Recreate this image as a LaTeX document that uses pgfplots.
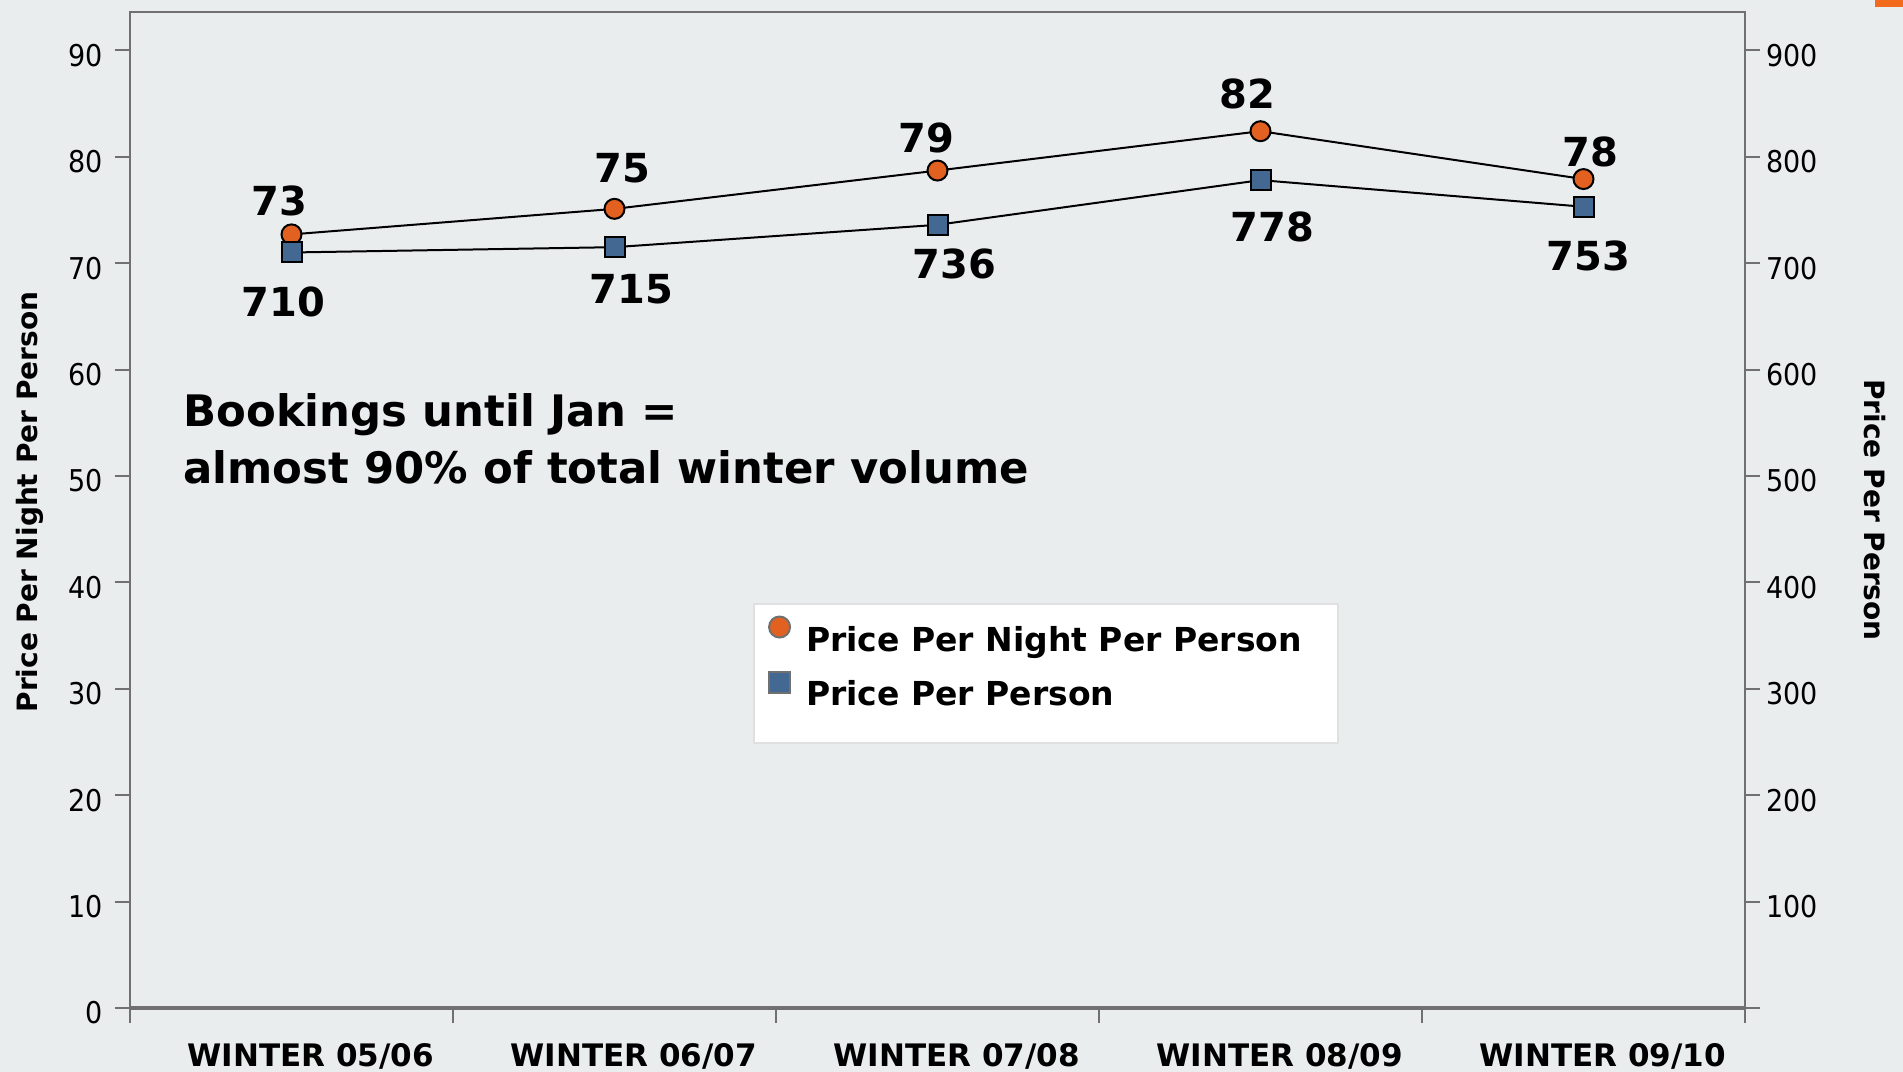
\documentclass[border=0pt]{standalone}
\usepackage{pgfplots}
\pgfplotsset{compat=1.18}
\usepackage{fontspec}
\setmainfont{DejaVu Sans}
\newfontfamily\condfont{DejaVu Sans Condensed}
\definecolor{bg}{RGB}{233,237,238}
\definecolor{axgray}{RGB}{112,112,112}
\definecolor{myorange}{RGB}{226,97,33}
\definecolor{myblue}{RGB}{67,104,146}
\definecolor{corner}{RGB}{242,107,29}
\begin{document}
\begin{tikzpicture}[x=1pt,y=1pt]
\fill[bg] (0,0) rectangle (951.5,536);
\fill[corner] (937.5,532.5) rectangle (951.5,536);
\begin{axis}[
  at={(65pt,32pt)}, anchor=south west,
  scale only axis, width=807.5pt, height=498pt,
  xmin=-0.5, xmax=4.5, ymin=0, ymax=93.6,
  axis background/.style={fill=bg},
  axis line style={axgray, line width=1pt},
  xtick={-0.5,0.5,1.5,2.5,3.5,4.5}, x tick label as interval,
  xticklabels={WINTER 05/06, WINTER 06/07, WINTER 07/08, WINTER 08/09, WINTER 09/10},
  xtick pos=bottom, ytick pos=left,
  ytick={0,10,...,90},
  tick align=outside,
  major tick length=7.5pt,
  tick style={axgray, line width=1pt},
  xticklabel style={font=\bfseries\fontsize{15.5}{18}\selectfont, inner sep=0pt, text height=11.3pt, text depth=0pt, anchor=north, xshift=9.5pt, yshift=-10pt},
  yticklabel style={font=\condfont\fontsize{15}{18}\selectfont, inner xsep=6pt, yshift=-2.5pt},
  /pgf/number format/assume math mode=true,
  clip=false,
]
\draw[axgray, line width=2pt] (rel axis cs:0,0) -- (rel axis cs:1,0);
\addplot[black, line width=1pt, mark=*, mark size=5pt,
  mark options={fill=myorange, draw=black, line width=1pt},
  nodes near coords, point meta=explicit symbolic,
  visualization depends on={value \thisrow{dx} \as \dx},
  visualization depends on={value \thisrow{dy} \as \dy},
  every node near coord/.style={anchor=base, inner sep=0pt, text=black,
    font=\bfseries\fontsize{20}{23}\selectfont, xshift=\dx pt, yshift=\dy pt}]
  table[x=x, y=y, meta=lbl] {
x y lbl dx dy
0 72.7 73 -6 9.5
1 75.1 75 4 13
2 78.7 79 -5.5 9
3 82.4 82 -6.5 11.5
4 77.9 78 3.5 6.5
};
\end{axis}
\begin{axis}[
  at={(65pt,32pt)}, anchor=south west,
  scale only axis, width=807.5pt, height=498pt,
  xmin=-0.5, xmax=4.5, ymin=0, ymax=936,
  axis x line=none, axis y line*=right,
  axis line style={axgray, line width=1pt},
  ytick={0,100,...,900},
  yticklabels={,100,200,300,400,500,600,700,800,900},
  tick align=outside,
  major tick length=7.5pt,
  tick style={axgray, line width=1pt},
  yticklabel style={font=\condfont\fontsize{15}{18}\selectfont, inner xsep=3pt, yshift=-2.5pt},
  /pgf/number format/assume math mode=true,
  clip=false,
  legend style={at={(0.3858,0.4066)}, anchor=north west,
    draw=black!12, line width=1pt, fill=white,
    inner xsep=6.5pt, inner ysep=5.75pt,
    font=\bfseries\fontsize{16.5}{20}\selectfont,
    row sep=0.25pt, column sep=7pt},
]
\addlegendimage{legend image code/.code={
  \draw[fill=myorange, draw=axgray, line width=1pt] (5.75pt,12pt) circle (5.25pt);
  \path (0pt,0pt) (11.5pt,0pt);}}
\addlegendentry[inner sep=0pt, anchor=base west, text depth=9.5pt]{Price Per Night Per Person\hspace*{11.5pt}}
\addplot[black, line width=1pt, mark=square*, mark size=5pt,
  mark options={fill=myblue, draw=black, line width=1pt},
  nodes near coords, point meta=explicit symbolic,
  visualization depends on={value \thisrow{dx} \as \dx},
  visualization depends on={value \thisrow{dy} \as \dy},
  every node near coord/.style={anchor=base, inner sep=0pt, text=black,
    font=\bfseries\fontsize{20}{23}\selectfont, xshift=\dx pt, yshift=\dy pt},
  legend image code/.code={
  \fill[myblue, draw=axgray, line width=1pt] (0.5pt,6.5pt) rectangle (11pt,17pt);
  \path (0pt,0pt) (11.5pt,0pt);}]
  table[x=x, y=y, meta=lbl] {
x y lbl dx dy
0 710 710 -4 -32
1 715 715 8.5 -28
2 736 736 8.5 -27
3 778 778 6 -30.5
4 753 753 2.5 -32
};
\addlegendentry[inner sep=0pt, anchor=base west, text depth=13pt]{Price Per Person}
\end{axis}
\node[rotate=90, font=\bfseries\fontsize{14}{17}\selectfont, inner sep=0pt] at (15,285) {Price Per Night Per Person};
\node[rotate=-90, font=\bfseries\fontsize{14}{17}\selectfont, inner sep=0pt] at (937.5,281) {Price Per Person};
\node[anchor=base west, inner sep=0pt, font=\bfseries\fontsize{21.7}{26}\selectfont] at (91.5,322.5) {Bookings until Jan =};
\node[anchor=base west, inner sep=0pt, font=\bfseries\fontsize{21.7}{26}\selectfont] at (91.5,294) {almost 90\% of total winter volume};
\end{tikzpicture}
\end{document}
